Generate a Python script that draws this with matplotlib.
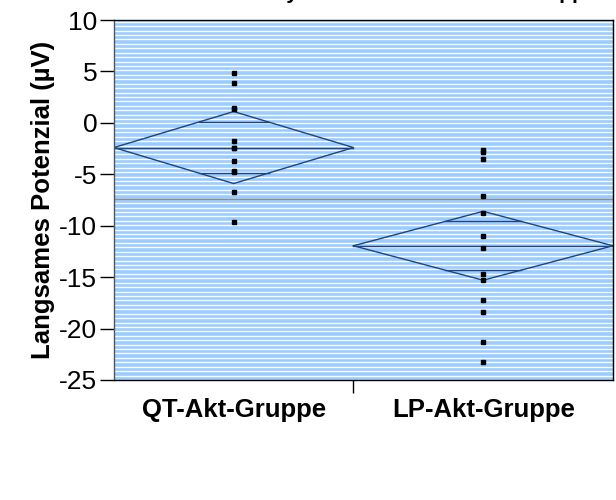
import numpy as np
import matplotlib.pyplot as plt

plt.rcParams['font.family'] = ['Liberation Sans', 'DejaVu Sans']
plt.rcParams['axes.unicode_minus'] = False

# Gruppen und Einzelwerte (µV)
gruppen = ['QT-Akt-Gruppe', 'LP-Akt-Gruppe']
qt_werte = [4.8, 3.85, 1.45, 1.3, -1.75, -2.4, -2.4, -3.75, -4.7, -4.8, -6.7, -9.6]
lp_werte = [-2.6, -2.8, -3.55, -7.1, -8.8, -11.0, -12.15, -14.7, -15.25,
            -17.2, -18.4, -21.3, -23.25]

# Mittelwerte und halbe Breite des 95%-Konfidenzintervalls
mittelwerte = [-2.4, -11.95]
ci_halb = [3.5, 3.35]

werte = [qt_werte, lp_werte]
n = [len(w) for w in werte]
gesamtmittel = np.average(mittelwerte, weights=n)

fig = plt.figure(figsize=(6.16, 5), dpi=100)
ax = fig.add_axes([0.185, 0.24, 0.81, 0.72])
ax.set_facecolor('#99CCFF')

# weiße Streifen im Hintergrund
for y in np.arange(-25, 10, 0.43):
    ax.axhline(y, color='white', lw=1.0, zorder=0)

ax.axhline(gesamtmittel, color='#8c8c8c', lw=1.0, zorder=1)

start = 0
mitten = []
for i, w in enumerate(werte):
    links, rechts = start, start + n[i]
    mitte = (links + rechts) / 2
    mitten.append(mitte)
    m, c = mittelwerte[i], ci_halb[i]
    # Mittelwert-Raute
    ax.plot([links, mitte, rechts, mitte, links], [m, m + c, m, m - c, m],
            color='#1f4482', lw=1.0, zorder=2)
    ax.plot([links, rechts], [m, m], color='#1f4482', lw=1.0, zorder=2)
    # Überlappungsmarken
    ov = c / np.sqrt(2)
    halb = (rechts - links) / 2 * (1 - ov / c)
    for y in (m + ov, m - ov):
        ax.plot([mitte - halb, mitte + halb], [y, y], color='#1f4482', lw=1.0, zorder=2)
    ax.plot([mitte] * len(w), w, 's', color='black', ms=3, zorder=3)
    start = rechts

ax.set_xlim(0, sum(n))
ax.set_ylim(-25, 10)
ax.set_yticks(np.arange(-25, 11, 5))
ax.tick_params(axis='y', labelsize=19, length=10, width=1, pad=2, direction='out')

ax.set_xticks([n[0]])
ax.set_xticklabels([''])
ax.tick_params(axis='x', which='major', length=9, width=1, direction='out')
ax.set_xticks(mitten, minor=True)
ax.set_xticklabels(gruppen, minor=True, fontsize=18.5, fontweight='bold')
ax.tick_params(axis='x', which='minor', length=0, pad=13)

ax.set_ylabel('Langsames Potenzial (µV)', fontsize=18.5, fontweight='bold', labelpad=3)

for s in ax.spines.values():
    s.set_linewidth(1.0)
ax.spines['left'].set_color('#555555')

# Titel liegt fast ganz oberhalb des Bildrands
fig.text(0.68, 1.003, 'Analyse von Potenzial nach Gruppe', ha='center', va='baseline',
         fontsize=15, fontweight='bold')

fig.savefig('out.png', dpi=100)
